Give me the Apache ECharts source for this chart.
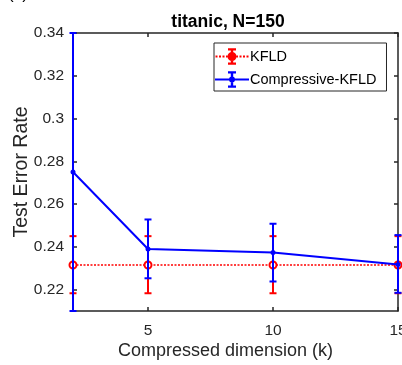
<!DOCTYPE html>
<html>
<head>
<meta charset="utf-8">
<script src="https://cdn.jsdelivr.net/npm/echarts@6/dist/echarts.min.js"></script>
<style>
html,body{margin:0;padding:0;background:#fff;}
#chart{width:402px;height:365px;}
</style>
</head>
<body>
<div id="chart"></div>
<script>
// ---- data ----
var dims = [2, 5, 10, 15];
var kfldMean = [0.2315, 0.2315, 0.2315, 0.2315];
var kfldLow = [0.2183, 0.2183, 0.2183, 0.2183];
var kfldHigh = [0.2450, 0.2450, 0.2450, 0.2450];
var compMean = [0.2750, 0.2390, 0.2373, 0.2318];
var compLow = [0.2100, 0.2253, 0.2238, 0.2185];
var compHigh = [0.3400, 0.2528, 0.2508, 0.2455];
var xTicks = [5, 10, 15];
var yTicks = [0.22, 0.24, 0.26, 0.28, 0.30, 0.32, 0.34];

var RED = '#ff0000', BLUE = '#0000ff', AX = '#262626';
var FONT = 'Liberation Sans, Arial, sans-serif';

function pairs(xs, ys) { return xs.map(function (x, i) { return [x, ys[i]]; }); }
function triples(xs, lo, hi) { return xs.map(function (x, i) { return [x, lo[i], hi[i]]; }); }

function errRender(color) {
  return function (params, api) {
    var x = api.value(0);
    var pLo = api.coord([x, api.value(1)]);
    var pHi = api.coord([x, api.value(2)]);
    var w = 3.5;
    var st = { stroke: color, lineWidth: 2 };
    return {
      type: 'group',
      children: [
        { type: 'line', shape: { x1: pHi[0], y1: pHi[1], x2: pLo[0], y2: pLo[1] }, style: st },
        { type: 'line', shape: { x1: pHi[0] - w, y1: pHi[1], x2: pHi[0] + w, y2: pHi[1] }, style: st },
        { type: 'line', shape: { x1: pLo[0] - w, y1: pLo[1], x2: pLo[0] + w, y2: pLo[1] }, style: st }
      ]
    };
  };
}

// legend glyphs (34 x 17 box): line + error bar + marker
function rect(x0, y0, x1, y1) { return 'M' + x0 + ' ' + y0 + 'H' + x1 + 'V' + y1 + 'H' + x0 + 'Z'; }
var barPart = rect(15.8, 0.3, 18.2, 16.7) + rect(13, 0.3, 21, 2.4) + rect(13, 14.6, 21, 16.7);
var kfldIcon = 'path://' + rect(0, 0, 0.01, 0.01) + rect(33.99, 16.99, 34, 17) +
  rect(0.5, 7.4, 2.5, 9.6) + rect(4, 7.4, 6, 9.6) + rect(7.5, 7.4, 9.5, 9.6) + rect(11, 7.4, 12.5, 9.6) +
  rect(21.5, 7.4, 23, 9.6) + rect(24.5, 7.4, 26.5, 9.6) + rect(28, 7.4, 30, 9.6) + rect(31.5, 7.4, 33.5, 9.6) +
  barPart + 'M12.5 8.5A4.5 4.5 0 1 1 21.5 8.5A4.5 4.5 0 1 1 12.5 8.5Z';
var compIcon = 'path://' + rect(0, 0, 0.01, 0.01) + rect(33.99, 16.99, 34, 17) +
  rect(0, 7.4, 34, 9.6) + barPart + 'M14 8.5A3 3 0 1 1 20 8.5A3 3 0 1 1 14 8.5Z';

var chart = echarts.init(document.getElementById('chart'), null, { renderer: 'canvas' });

function fmt(v) { return String(Number(v.toFixed(2))); }

var option = {
  backgroundColor: '#fff',
  animation: false,
  textStyle: { fontFamily: FONT },
  title: {
    text: 'titanic, N=150',
    left: 223, top: 8, textAlign: 'center',
    textStyle: { fontFamily: FONT, fontSize: 17.5, fontWeight: 'bold', color: '#000' }
  },
  graphic: [{
    type: 'text', left: 8, top: -14, silent: true,
    style: { text: '(c)', fontFamily: FONT, fontSize: 17, fill: '#000' }
  }],
  legend: {
    data: [
      { name: 'KFLD', icon: kfldIcon, itemStyle: { color: RED, borderWidth: 0 } },
      { name: 'Compressive-KFLD', icon: compIcon, itemStyle: { color: BLUE, borderWidth: 0 } }
    ],
    orient: 'vertical',
    left: 214, top: 43,
    itemWidth: 34, itemHeight: 17, itemGap: 6,
    padding: [5, 10, 3, 1],
    borderColor: AX, borderWidth: 1, backgroundColor: '#fff',
    textStyle: { fontFamily: FONT, fontSize: 14.5, color: '#000', padding: [0, 0, 0, -4] },
    selectedMode: false
  },
  grid: { left: 73, right: 4, top: 33, bottom: 54, outerBoundsMode: 'none', containLabel: false },
  xAxis: [{
    type: 'value', min: 2, max: 15,
    name: 'Compressed dimension (k)', nameLocation: 'middle', nameGap: 31,
    nameMoveOverlap: false,
    nameTextStyle: { fontFamily: FONT, fontSize: 18, color: AX, padding: [0, 20, 0, 0] },
    axisLine: { show: true, lineStyle: { color: AX, width: 1.5 } },
    axisTick: { show: true, inside: true, length: 4, customValues: xTicks, lineStyle: { color: AX, width: 1.5 } },
    axisLabel: { show: true, customValues: xTicks, margin: 12, fontFamily: FONT, fontSize: 15.5, color: AX },
    splitLine: { show: false }
  }, {
    type: 'value', min: 2, max: 15, position: 'top',
    axisLine: { show: true, lineStyle: { color: AX, width: 1.5 } },
    axisTick: { show: true, inside: true, length: 4, customValues: xTicks, lineStyle: { color: AX, width: 1.5 } },
    axisLabel: { show: false },
    splitLine: { show: false }
  }],
  yAxis: [{
    type: 'value', min: 0.21, max: 0.34,
    name: 'Test Error Rate', nameLocation: 'middle', nameGap: 41,
    nameMoveOverlap: false,
    nameTextStyle: { fontFamily: FONT, fontSize: 19.5, color: AX },
    axisLine: { show: true, lineStyle: { color: AX, width: 1.5 } },
    axisTick: { show: true, inside: true, length: 4, customValues: yTicks, lineStyle: { color: AX, width: 1.5 } },
    axisLabel: { show: true, customValues: yTicks, margin: 9, fontFamily: FONT, fontSize: 15.5, color: AX, formatter: fmt },
    splitLine: { show: false }
  }, {
    type: 'value', min: 0.21, max: 0.34, position: 'right',
    axisLine: { show: true, lineStyle: { color: AX, width: 1.5 } },
    axisTick: { show: true, inside: true, length: 4, customValues: yTicks, lineStyle: { color: AX, width: 1.5 } },
    axisLabel: { show: false },
    splitLine: { show: false }
  }],
  series: [
    {
      name: 'kfld-err', type: 'custom', clip: false, z: 3,
      renderItem: errRender(RED), data: triples(dims, kfldLow, kfldHigh)
    },
    {
      name: 'KFLD', type: 'line', z: 4, clip: false, data: pairs(dims, kfldMean),
      color: RED,
      lineStyle: { color: RED, width: 1.5, type: [2, 1.5] },
      symbol: 'emptyCircle', symbolSize: 7,
      itemStyle: { color: RED, borderColor: RED, borderWidth: 1.8 }
    },
    {
      name: 'comp-err', type: 'custom', clip: false, z: 5,
      renderItem: errRender(BLUE), data: triples(dims, compLow, compHigh)
    },
    {
      name: 'Compressive-KFLD', type: 'line', z: 6, clip: false, data: pairs(dims, compMean),
      color: BLUE,
      lineStyle: { color: BLUE, width: 2 },
      symbol: 'circle', symbolSize: 5,
      itemStyle: { color: BLUE }
    }
  ]
};
chart.setOption(option);
</script>
</body>
</html>
